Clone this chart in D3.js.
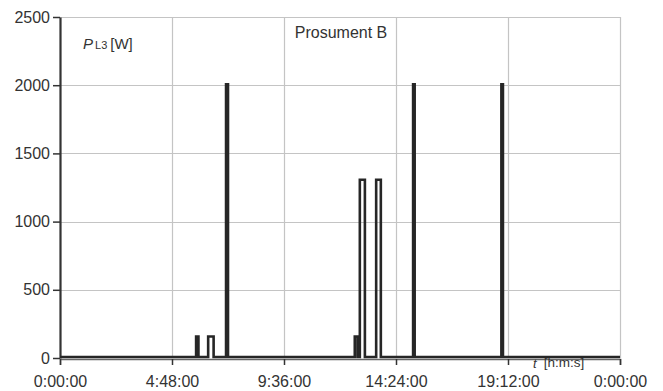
<!DOCTYPE html>
<html lang="en">
  <head>
    <meta charset="utf-8">
    <title>Prosument B</title>
    <script src="https://d3js.org/d3.v7.min.js"></script>
    <style>
      body { margin: 0; background: #fff; }
      text { font-family: "Liberation Sans", Arial, sans-serif; fill: #333; }
    </style>
  </head>
  <body>
    <script type="text/javascript">
    // size of the page
    var w = 663;
    var h = 391;
    var margin = { top: 17, right: 43, bottom: 33, left: 60 };

    // pulses of P_L3 : start / end in minutes from midnight, power in W
    var pulseStart = [350, 381, 427, 758, 771, 813, 908, 1135];
    var pulseEnd   = [356, 395, 432, 765, 784, 825, 912, 1139];
    var pulsePower = [150, 150, 2000, 150, 1300, 1300, 2000, 2000];

    var xTickMinutes = [0, 288, 576, 864, 1152, 1440];
    var xTickLabels = ["0:00:00", "4:48:00", "9:36:00", "14:24:00", "19:12:00", "0:00:00"];
    var yTicks = [0, 500, 1000, 1500, 2000, 2500];

    // step points built from the pulses
    var points = [[0, 0]];
    for (var i = 0; i < pulseStart.length; i++) {
      points.push([pulseStart[i], 0]);
      points.push([pulseStart[i], pulsePower[i]]);
      points.push([pulseEnd[i], pulsePower[i]]);
      points.push([pulseEnd[i], 0]);
    }
    points.push([1440, 0]);

    var xScale = d3.scaleLinear()
                   .domain([0, 1440])
                   .range([margin.left, w - margin.right]);

    var yScale = d3.scaleLinear()
                   .domain([0, 2500])
                   .range([h - margin.bottom, margin.top]);

    var svg = d3.select("body")
                .append("svg")
                .attr("width", w)
                .attr("height", h);

    // grid
    svg.append("g")
       .selectAll("line")
       .data(yTicks.slice(1))
       .enter()
       .append("line")
       .attr("x1", margin.left)
       .attr("x2", w - margin.right)
       .attr("y1", function(d) { return Math.round(yScale(d)) + 0.5; })
       .attr("y2", function(d) { return Math.round(yScale(d)) + 0.5; })
       .attr("stroke", "#c4c4c4")
       .attr("stroke-width", 1.2);

    svg.append("g")
       .selectAll("line")
       .data(xTickMinutes.slice(1))
       .enter()
       .append("line")
       .attr("x1", function(d) { return Math.round(xScale(d)) + 0.5; })
       .attr("x2", function(d) { return Math.round(xScale(d)) + 0.5; })
       .attr("y1", margin.top)
       .attr("y2", h - margin.bottom)
       .attr("stroke", "#c4c4c4")
       .attr("stroke-width", 1.2);

    // x axis
    var xAxis = d3.axisBottom(xScale)
                  .tickValues(xTickMinutes)
                  .tickSize(6)
                  .tickFormat(function(d, i) { return xTickLabels[i]; });

    var gx = svg.append("g")
                .attr("transform", "translate(0," + (h - margin.bottom + 1) + ")")
                .call(xAxis);
    gx.select(".domain").attr("stroke", "#666").attr("stroke-width", 1.5);
    gx.selectAll(".tick line").attr("stroke", "#333").attr("stroke-width", 1.5);
    gx.selectAll(".tick text")
      .attr("font-size", "16px")
      .attr("dy", "1.0em")
      .attr("y", 12);

    // y axis
    var yAxis = d3.axisLeft(yScale)
                  .tickValues(yTicks)
                  .tickSize(7)
                  .tickSizeOuter(0)
                  .tickFormat(d3.format("d"));

    var gy = svg.append("g")
                .attr("transform", "translate(" + margin.left + ",0)")
                .call(yAxis);
    gy.select(".domain").attr("stroke", "#333").attr("stroke-width", 2.2);
    gy.selectAll(".tick line").attr("stroke", "#333").attr("stroke-width", 1.5);
    gy.selectAll(".tick text")
      .attr("font-size", "16px")
      .attr("x", -10);

    // series
    var line = d3.line()
                 .x(function(d) { return xScale(d[0]); })
                 .y(function(d) { return yScale(d[1]) - 1; });

    svg.append("path")
       .datum(points)
       .attr("d", line)
       .attr("fill", "none")
       .attr("stroke", "#262626")
       .attr("stroke-width", 2.6)
       .attr("stroke-linejoin", "miter");

    // labels
    var pl = svg.append("text")
                .attr("x", 83)
                .attr("y", 49)
                .attr("font-size", "15px");
    pl.append("tspan").attr("font-style", "italic").text("P");
    pl.append("tspan").attr("font-size", "11px").attr("dx", 2).text("L3");
    pl.append("tspan").attr("dx", 3).text("[W]");

    svg.append("text")
       .attr("x", 341)
       .attr("y", 38)
       .attr("text-anchor", "middle")
       .attr("font-size", "16px")
       .text("Prosument B");

    var tl = svg.append("text")
                .attr("x", 533)
                .attr("y", 368)
                .attr("font-size", "13px");
    tl.append("tspan").attr("font-style", "italic").text("t");
    tl.append("tspan").attr("dx", 7).attr("dy", -1).attr("font-size", "13.5px").text("[h:m:s]");
    </script>
  </body>
</html>
